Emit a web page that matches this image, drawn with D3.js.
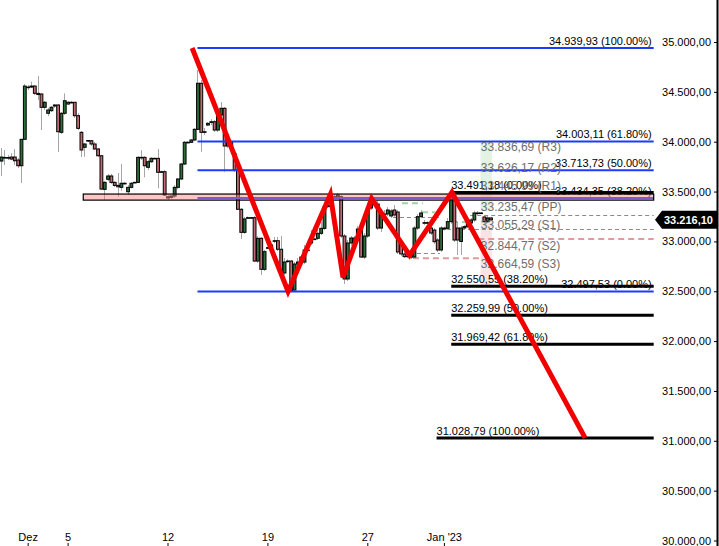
<!DOCTYPE html>
<html><head><meta charset="utf-8">
<script src="https://cdn.jsdelivr.net/npm/d3@7"></script>
<style>
html,body{margin:0;padding:0;background:#fff;}
svg{display:block;}
</style></head><body>
<svg id="c" width="719" height="546"></svg>
<script>
// ---- DATA ----
// candles: [open, high, low, close]
const candles = [
[33806,33937,33656,33846],[33839,33916,33766,33842],[33839,33866,33816,33841],[33846,33886,33816,33826],
[33846,33926,33766,33809],[33816,33836,33736,33759],[33759,34027,33586,34024],[34024,34578,34017,34558],
[34548,34568,34518,34545],[34548,34602,34538,34558],[34558,34568,34468,34485],[34485,34659,34418,34473],
[34478,34488,34117,34345],[34345,34408,34318,34395],[34285,34338,34257,34318],[34311,34358,34298,34345],
[34358,34378,34338,34368],[34368,34378,33897,34100],[34094,34298,34077,34285],[34285,34485,34268,34411],
[34395,34408,34368,34378],[34395,34410,34385,34395],[34395,34398,34237,34261],[34261,34288,34117,34134],
[34094,34107,33846,33917],[33944,33987,33849,33977],[34010,34017,33997,34012],[34010,34017,33957,33977],
[33977,33997,33917,33927],[33927,33937,33846,33859],[33859,33866,33515,33525],[33522,33605,33415,33592],
[33623,33676,33606,33656],[33656,33676,33576,33592],[33592,33605,33545,33562],[33562,33686,33448,33548],
[33542,33776,33508,33583],[33583,33595,33570,33583],[33498,33565,33465,33542],[33542,33595,33532,33583],
[33592,33600,33585,33592],[33592,33856,33586,33843],[33843,33916,33816,33843],[33843,33856,33643,33759],
[33743,33816,33716,33799],[33799,33846,33786,33833],[33833,33840,33826,33833],[33833,33926,33532,33693],
[33699,33710,33690,33699],[33699,33716,33455,33465],[33448,33465,33415,33435],[33455,33465,33425,33442],
[33455,33565,33435,33542],[33542,33636,33525,33626],[33626,33786,33616,33776],[33776,34007,33766,33994],
[33994,34007,33985,33994],[33994,34027,33987,34017],[34017,34137,34007,34124],[34124,34719,34117,34586],
[34586,34619,33899,34094],[34100,34137,34067,34100],[34167,34197,34157,34184],[34200,34227,34167,34200],
[34200,34217,34097,34117],[34117,34288,34097,34268],[34268,34398,34217,34335],[34335,34348,33699,33957],
[34000,34017,33937,33957],[33997,34010,33957,33967],[33883,33896,33696,33716],[33716,33736,33315,33322],
[33322,33335,33024,33091],[33091,33245,33075,33225],[33238,33250,33225,33238],[33238,33245,33230,33238],
[33238,33255,32793,32803],[32803,33054,32783,33031],[33031,33044,32663,32720],[32720,32914,32703,32897],
[32937,32947,32927,32937],[32964,32974,32924,32937],[33007,33044,32984,33007],[33007,33044,32904,32921],
[32921,33054,32663,32680],[32683,32833,32663,32793],[32803,32820,32785,32803],[32803,32813,32498,32505],
[32512,32793,32500,32773],[32773,32833,32753,32793],[32793,32863,32763,32843],[32793,32964,32773,32914],
[32914,32924,32904,32914],[32984,33114,32964,33034],[33024,33034,33014,33024],[33031,33134,33014,33081],
[33081,33195,33064,33131],[33131,33365,33114,33348],[33348,33385,33335,33365],[33408,33455,33395,33432],
[33448,33475,33435,33448],[33445,33485,33435,33465],[33448,33465,33034,33054],[33054,33074,32573,32623],
[32623,33014,32603,32984],[32984,33054,32954,33034],[33034,33054,32954,32974],[33014,33155,32994,33124],
[33124,33164,32833,32843],[32843,33084,32823,33054],[33054,33355,33034,33335],[33335,33395,33315,33375],
[33385,33425,33365,33385],[33375,33415,33114,33134],[33134,33295,33094,33275],[33275,33315,33235,33275],
[33275,33345,33255,33315],[33255,33325,33235,33305],[33315,33365,33245,33265],[33295,33315,32874,32894],
[32984,33014,32853,32874],[32874,32914,32833,32847],[32853,32894,32833,32853],[32863,32874,32823,32843],
[32843,33154,32833,33134],[33134,33275,33114,33248],[33248,33315,33235,33285],[33188,33215,33164,33188],
[33188,33200,33175,33188],[33134,33154,33064,33084],[33114,33134,32974,32997],[33014,33034,32894,32914],
[32914,33154,32894,33134],[33124,33150,33110,33134],[33131,33235,33114,33198],[33198,33491,33175,33448],
[33448,33485,32994,33014],[33134,33195,32863,33014],[33000,33154,32863,33134],[33134,33164,33114,33148],
[33148,33205,33134,33185],[33185,33235,33164,33215],[33215,33305,33195,33285],[33285,33305,33265,33285],
[33285,33295,33275,33285],[33245,33255,33185,33198],[33198,33255,33185,33235],[33235,33245,33205,33216.10]
];
const xTickIndex = [8, 20, 50, 80, 110, 133];
const xTickLabels = ["Dez", "5", "12", "19", "27", "Jan '23"];
const yTicks = [30000, 30500, 31000, 31500, 32000, 32500, 33000, 33500, 34000, 34500, 35000];

const fibAValues = [34939.93, 34003.11, 33713.73, 33434.35, 32497.53];
const fibALabels = ["100.00%", "61.80%", "50.00%", "38.20%", "0.00%"];
const fibAStart = 59;

const fibBValues = [33491.18, 32550.55, 32259.99, 31969.42, 31028.79];
const fibBLabels = ["0.00%", "38.20%", "50.00%", "61.80%", "100.00%"];
const fibBStart = [135.2, 135.2, 135.2, 135.2, 130.8];

const pivotValues = [33836.69, 33626.17, 33445.99, 33235.47, 33055.29, 32844.77, 32664.59];
const pivotNames = ["R3", "R2", "R1", "PP", "S1", "S2", "S3"];
const pivotStart = 144.1;

const zigzagIndex = [57.4, 86.2, 98.9, 102.7, 111.3, 122.7, 135.4, 175.4];
const zigzagValues = [34939.93, 32497.53, 33470, 32640, 33430, 32862, 33491.18, 31028.79];

const zoneValues = [33414, 33475];
const zoneStart = 24.7;

const grayDashValues = [33262, 33121, 33245, 32880];
const grayDashStart = [140.9, 131.8, 117.7, 122.8];
const grayDashEnd = [196, 196, 131.8, 131.8];
const redDashValues = [33025, 32830];
const redDashStart = [143.3, 123.7];
const redDashEnd = [196, 143.8];
const greenDashValues = [33382, 33292, 33195];
const greenDashStart = [120.4, 126.4, 135.4];
const greenDashEnd = [126.7, 130.3, 140.2];

const dayShadeUp = [33300, 34000];
const dayShadeDown = [32545, 33245];
const dayShadeIndex = [144, 147.4];

const lastPrice = 33216.10;
const endIndex = 196;

// ---- CHART ----
const svg = d3.select("#c");
const x = d3.scaleLinear().domain([0, endIndex]).range([1, 653.7]);
const y = d3.scaleLinear().domain([30000, 35000]).range([540.5, 42]);
const loc = d3.formatLocale({decimal: ",", thousands: ".", grouping: [3], currency: ["", ""]});
const fmt = loc.format(",.2f");
const FONT = "'Liberation Sans', Arial, sans-serif";
const NARROW = "'Liberation Sans Narrow', 'Arial Narrow', 'Liberation Sans', sans-serif";
const xr = endIndex;

// day shading
svg.append("rect").attr("x", x(dayShadeIndex[0])).attr("width", x(dayShadeIndex[1]) - x(dayShadeIndex[0]))
  .attr("y", y(dayShadeUp[1])).attr("height", y(dayShadeUp[0]) - y(dayShadeUp[1])).attr("fill", "#e3f3e3");
svg.append("rect").attr("x", x(dayShadeIndex[0])).attr("width", x(dayShadeIndex[1]) - x(dayShadeIndex[0]))
  .attr("y", y(dayShadeDown[1])).attr("height", y(dayShadeDown[0]) - y(dayShadeDown[1])).attr("fill", "#fbe3e3");

// dashed lines
svg.append("g").selectAll("line").data(grayDashValues).join("line")
  .attr("x1", (d, i) => x(grayDashStart[i])).attr("x2", (d, i) => x(grayDashEnd[i]))
  .attr("y1", d => Math.round(y(d)) + 0.5).attr("y2", d => Math.round(y(d)) + 0.5)
  .attr("stroke", "#8a8a8a").attr("stroke-width", 1).attr("stroke-dasharray", "4,3");
svg.append("g").selectAll("line").data(redDashValues).join("line")
  .attr("x1", (d, i) => x(redDashStart[i])).attr("x2", (d, i) => x(redDashEnd[i]))
  .attr("y1", d => y(d)).attr("y2", d => y(d))
  .attr("stroke", "#e39a9a").attr("stroke-width", 2).attr("stroke-dasharray", "6,4");
svg.append("g").selectAll("line").data(greenDashValues).join("line")
  .attr("x1", (d, i) => x(greenDashStart[i])).attr("x2", (d, i) => x(greenDashEnd[i]))
  .attr("y1", d => y(d)).attr("y2", d => y(d))
  .attr("stroke", "#9fd49f").attr("stroke-width", 2).attr("stroke-dasharray", "6,4");

// candles
const cg = svg.append("g");
candles.forEach((c, i) => {
  const cx = Math.round(x(i));
  cg.append("line").attr("x1", cx + 0.5).attr("x2", cx + 0.5)
    .attr("y1", y(c[1])).attr("y2", y(c[2])).attr("stroke", "#a6a6a6").attr("stroke-width", 1);
});
candles.forEach((c, i) => {
  const cx = x(i);
  const top = y(Math.max(c[0], c[3])), bot = y(Math.min(c[0], c[3]));
  const h = Math.max(0.6, bot - top);
  cg.append("rect").attr("x", cx - 0.9).attr("width", 2.8)
    .attr("y", top).attr("height", h)
    .attr("fill", c[3] >= c[0] ? "#2c6e3c" : "#c06a74")
    .attr("stroke", "#000").attr("stroke-width", 1);
});

// fib A (blue) lines
svg.append("g").selectAll("line").data(fibAValues).join("line")
  .attr("x1", x(fibAStart)).attr("x2", x(xr))
  .attr("y1", d => y(d)).attr("y2", d => y(d))
  .attr("stroke", "#1b3cff").attr("stroke-width", 2);
svg.append("g").selectAll("text").data(fibAValues).join("text")
  .attr("x", x(xr) - 2).attr("y", d => y(d) - 3).attr("text-anchor", "end")
  .attr("font-family", FONT).attr("font-size", 11).attr("fill", "#000")
  .text((d, i) => fmt(d) + " (" + fibALabels[i] + ")");

// zone band
svg.append("rect").attr("x", x(zoneStart)).attr("width", x(xr) - x(zoneStart))
  .attr("y", y(zoneValues[1])).attr("height", y(zoneValues[0]) - y(zoneValues[1]))
  .attr("fill", "#ff7f7f").attr("fill-opacity", 0.45).attr("stroke", "#000").attr("stroke-width", 1.2);

// fib B (black) lines
svg.append("g").selectAll("text").data(fibBValues).join("text")
  .attr("x", (d, i) => x(fibBStart[i])).attr("y", d => y(d) - 3)
  .attr("font-family", FONT).attr("font-size", 11).attr("fill", "#000")
  .text((d, i) => fmt(d) + " (" + fibBLabels[i] + ")");
svg.append("g").selectAll("line").data(fibBValues).join("line")
  .attr("x1", (d, i) => x(fibBStart[i])).attr("x2", x(xr))
  .attr("y1", d => y(d)).attr("y2", d => y(d))
  .attr("stroke", "#000").attr("stroke-width", 3);

// pivot labels
svg.append("g").selectAll("text").data(pivotValues).join("text")
  .attr("x", x(pivotStart)).attr("y", d => y(d) - 7)
  .attr("font-family", FONT).attr("font-size", 12).attr("fill", "#6e6e6e")
  .text((d, i) => fmt(d) + " (" + pivotNames[i] + ")");

// zigzag
const zz = zigzagIndex.map((d, i) => [x(d), y(zigzagValues[i])]);
svg.append("path").attr("d", d3.line()(zz)).attr("fill", "none")
  .attr("stroke", "#f20000").attr("stroke-width", 5).attr("stroke-linejoin", "miter").attr("stroke-linecap", "butt");

// y axis (right)
const ya = svg.append("g").attr("transform", "translate(717,0)")
  .call(d3.axisLeft(y).tickValues(yTicks).tickSize(3).tickPadding(3).tickFormat(fmt));
ya.select(".domain").remove();
ya.selectAll("text").attr("font-family", NARROW).attr("font-size", 11).attr("fill", "#000");
svg.append("line").attr("x1", 717.5).attr("x2", 717.5).attr("y1", 0).attr("y2", 546).attr("stroke", "#000").attr("stroke-width", 2);

// x axis (bottom)
const xa = svg.append("g").attr("transform", "translate(0,546)")
  .call(d3.axisTop(x).tickValues(xTickIndex).tickSize(3).tickPadding(2).tickFormat((d, i) => xTickLabels[i]));
xa.select(".domain").remove();
xa.selectAll("text").attr("font-family", NARROW).attr("font-size", 11).attr("fill", "#000");

// last price tag
const ly = y(lastPrice);
svg.append("path").attr("d", `M655,${ly} L662,${ly - 9} L717,${ly - 9} L717,${ly + 9} L662,${ly + 9} Z`).attr("fill", "#000");
svg.append("text").attr("x", 664).attr("y", ly + 4).attr("font-family", FONT).attr("font-size", 11)
  .attr("font-weight", "bold").attr("fill", "#fff").text(fmt(lastPrice));
</script>
</body></html>
